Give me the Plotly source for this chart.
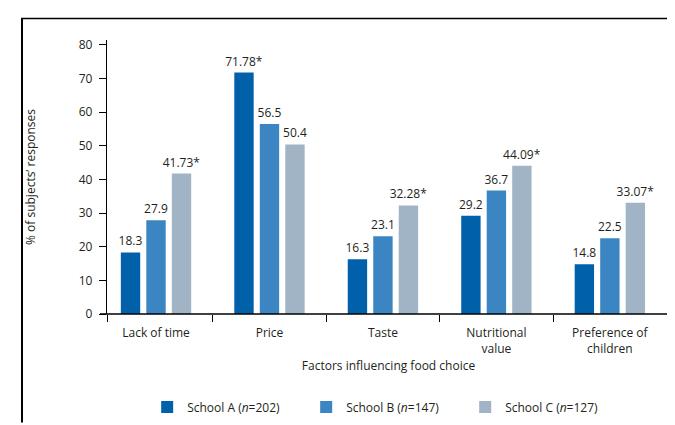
import plotly.graph_objects as go

categories = ["Lack of time", "Price", "Taste", "Nutritional<br>value", "Preference of<br>children"]
school_a = [18.3, 71.78, 16.3, 29.2, 14.8]
school_b = [27.9, 56.5, 23.1, 36.7, 22.5]
school_c = [41.73, 50.4, 32.28, 44.09, 33.07]
labels_a = ["18.3", "71.78*", "16.3", "29.2", "14.8"]
labels_b = ["27.9", "56.5", "23.1", "36.7", "22.5"]
labels_c = ["41.73*", "50.4", "32.28*", "44.09*", "33.07*"]
series_names = ["School A (<i>n</i>=202)", "School B (<i>n</i>=147)", "School C (<i>n</i>=127)"]
colors = ["#0061AA", "#3A85C2", "#A1B4C5"]
y_ticks = [0, 10, 20, 30, 40, 50, 60, 70, 80]

FONT = "Open Sans"
TXT = "#231F20"
xpos = list(range(len(categories)))

fig = go.Figure()
for name, vals, labs, col in zip(series_names, [school_a, school_b, school_c],
                                 [labels_a, labels_b, labels_c], colors):
    fig.add_trace(go.Bar(
        x=xpos, y=vals, name=name, text=labs, textposition="outside",
        textfont=dict(family=FONT, size=12, color=TXT),
        constraintext="none",
        marker=dict(color=col, line=dict(width=0)),
        cliponaxis=False,
    ))

# plot geometry in pixels
L, R, T, B = 99, 662, 32, 312
W, H = R - L, B - T

def px(x):
    return (x - L) / W

def py(y):
    return (B - y) / H

shapes = [
    # x axis line extending left of y axis
    dict(type="line", xref="paper", yref="paper", x0=px(92), x1=1, y0=0, y1=0,
         line=dict(color="#000000", width=1.3)),
    # outer frame
    dict(type="line", xref="paper", yref="paper", x0=px(13), x1=px(670), y0=py(10), y1=py(10),
         line=dict(color="#000000", width=1.5)),
    dict(type="line", xref="paper", yref="paper", x0=px(14), x1=px(14), y0=py(10), y1=py(423),
         line=dict(color="#000000", width=2)),
    dict(type="line", xref="paper", yref="paper", x0=px(670), x1=px(670), y0=py(10), y1=py(423),
         line=dict(color="#8A8A8A", width=2)),
]

fig.update_layout(
    width=675, height=425,
    margin=dict(l=L, r=675 - R, t=T, b=425 - B),
    paper_bgcolor="white", plot_bgcolor="white",
    barmode="group", bargap=0.326, bargroupgap=0.24,
    font=dict(family=FONT, size=12, color=TXT),
    showlegend=True,
    legend=dict(orientation="h", x=0.495, xanchor="center", y=py(407), yanchor="middle",
                entrywidth=114, font=dict(family=FONT, size=12, color=TXT),
                itemclick=False, traceorder="normal"),
    shapes=shapes,
    xaxis=dict(
        range=[-0.432, 4.53], tickmode="array", tickvals=xpos, ticktext=categories,
        ticks="", showline=False, showgrid=False, zeroline=False,
        tickfont=dict(family=FONT, size=12, color=TXT), ticklabelstandoff=10,
        minor=dict(tickmode="array", tickvals=[-0.432, 0.5, 1.5, 2.5, 3.5], ticks="outside",
                   ticklen=7, tickwidth=1.3, tickcolor="#000000", showgrid=False),
        title=dict(text="Factors influencing food choice", font=dict(family=FONT, size=12, color=TXT),
                   standoff=4),
    ),
    yaxis=dict(
        range=[0, 81.45], tickmode="array", tickvals=y_ticks, ticks="outside", ticklen=7,
        tickwidth=1.3, tickcolor="#000000", showline=True, linecolor="#000000", linewidth=1.3,
        showgrid=False, zeroline=False, tickfont=dict(family=FONT, size=12, color=TXT),
        ticklabelstandoff=4,
        title=dict(text="% of subjects\u2019 responses", font=dict(family=FONT, size=12, color=TXT),
                   standoff=40),
    ),
)

fig.write_html("out.html")
